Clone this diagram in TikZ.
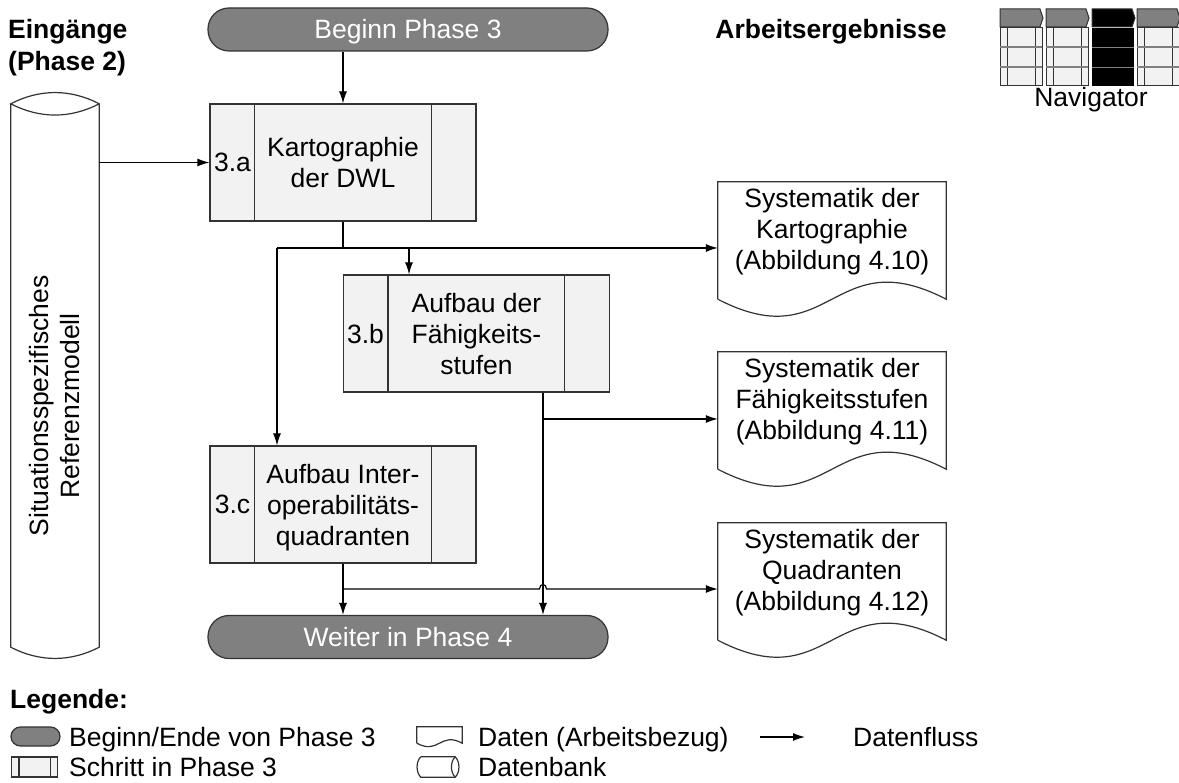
\documentclass[tikz,border=0pt]{standalone}
\usepackage{fontspec}
\setmainfont{Liberation Sans}
\usetikzlibrary{arrows.meta,calc}
\definecolor{pillgray}{HTML}{808080}
\definecolor{boxgray}{HTML}{F2F2F2}
\definecolor{edgegray}{HTML}{333333}
\newcommand\myfs{\fontsize{26.5}{31}\selectfont}
\begin{document}
\begin{tikzpicture}[x=1pt,y=-1pt,font=\myfs,
  txt/.style={inner sep=0pt,align=center,text depth=0pt},
  lefttxt/.style={inner sep=0pt,anchor=base west},
  shapeline/.style={draw=edgegray,line width=1.2pt},
  stepbox/.style={shapeline,fill=boxgray,minimum width=266pt,minimum height=117pt,inner sep=0pt,align=center,text depth=0pt},
  pill/.style={shapeline,fill=pillgray,rounded corners=21pt,minimum width=400pt,minimum height=43pt,inner sep=0pt,text=white,text height=19pt,text depth=0pt},
  docbox/.style={inner sep=0pt,minimum width=228pt,minimum height=117pt},
  flow/.style={draw=black,line width=1.2pt,-{Latex[length=12pt,width=8pt]}},
  plain/.style={draw=black,line width=1.2pt}]
\useasboundingbox (0,0) rectangle (1179,783);
\fill[white] (0,0) rectangle (1179,783);

% headings
\node[lefttxt,font=\myfs\bfseries] (ein) at (8,39) {Eingänge};
\node[lefttxt,font=\myfs\bfseries] (ph2) at (8,71) {(Phase 2)};
\node[inner sep=0pt,anchor=base,font=\myfs\bfseries] (arb) at (831,39) {Arbeitsergebnisse};

% navigator
\foreach \x/\c in {1000/pillgray,1046/pillgray,1092/black,1137/pillgray}{
  \filldraw[fill=\c,draw=edgegray,line width=1pt] (\x,9) -- (\x+40,9) -- (\x+43,18) -- (\x+40,27) -- (\x,27) -- cycle;
}
\foreach \x in {1000,1046,1137}{
  \filldraw[fill=boxgray,draw=edgegray,line width=1pt] (\x,28) rectangle (\x+42,86);
  \draw[edgegray,line width=1pt] (\x+7,28) -- (\x+7,86) (\x+35,28) -- (\x+35,86);
  \draw[pillgray,line width=2pt] (\x,47) -- (\x+42,47) (\x,67) -- (\x+42,67);
}
\fill[black] (1092,28) rectangle (1134,86);
\draw[pillgray,line width=0.8pt] (1092,47) -- (1134,47) (1092,67) -- (1134,67);
\node[inner sep=0pt,anchor=base] (nav) at (1091,107) {Navigator};

% start / end
\node[pill] (start) at (408,29.5) {Beginn Phase 3};
\node[pill] (end) at (408,637) {Weiter in Phase 4};

% steps
\node[stepbox] (a) at (343,162.5) {Kartographie\\der DWL};
\draw[shapeline] (a.north west) ++(45,0) -- ++(0,117);
\draw[shapeline] (a.north east) ++(-45,0) -- ++(0,117);
\node[txt] (al) at (232.5,162.5) {3.a};

\node[stepbox] (b) at (476.5,333.5) {Aufbau der\\Fähigkeits-\\stufen};
\draw[shapeline] (b.north west) ++(45,0) -- ++(0,117);
\draw[shapeline] (b.north east) ++(-46,0) -- ++(0,117);
\node[txt] (bl) at (365.5,333.5) {3.b};

\node[stepbox] (c) at (343,504.5) {Aufbau Inter-\\operabilitäts-\\quadranten};
\draw[shapeline] (c.north west) ++(45,0) -- ++(0,117);
\draw[shapeline] (c.north east) ++(-45,0) -- ++(0,117);
\node[txt] (cl) at (232.5,504.5) {3.c};

% database
\node[inner sep=0pt,minimum width=88pt,minimum height=543pt] (db) at (55,375.5) {};
\draw[shapeline] (db.north west) -- (db.south west) .. controls +(29,15) and +(-29,15) .. (db.south east) -- (db.north east) .. controls +(-29,-15) and +(29,-15) .. (db.north west) .. controls +(29,15) and +(-29,15) .. (db.north east);
\node[txt,rotate=90] (dbt) at (54,406) {Situationsspezifisches\\Referenzmodell};

% documents
\foreach \n/\y in {doc1/240.5,doc2/410.5,doc3/581.5}{
  \node[docbox] (\n) at (832,\y) {};
  \draw[shapeline] (\n.south west) -- (\n.north west) -- (\n.north east) -- (\n.south east) .. controls +(-114,-59) and +(114,59) .. (\n.south west);
}
\node[txt] (t1) at ([yshift=12pt]doc1.center) {Systematik der\\Kartographie\\(Abbildung 4.10)};
\node[txt] (t2) at ([yshift=12pt]doc2.center) {Systematik der\\Fähigkeitsstufen\\(Abbildung 4.11)};
\node[txt] (t3) at ([yshift=12pt]doc3.center) {Systematik der\\Quadranten\\(Abbildung 4.12)};

% connectors
\draw[flow] (start.south -| a.north) -- (a.north);
\draw[flow] (db.east |- a.west) -- (a.west);
\coordinate (j1) at (343,248);
\coordinate (jl) at (277,248);
\coordinate (jb) at (409,248);
\draw[plain] (a.south) -- (j1);
\draw[flow] (jl) -- (doc1.west |- jl);
\draw[flow] (jl) -- (c.north -| jl);
\draw[flow] (jb) -- (jb |- b.north);
\coordinate (kb) at (543,419);
\draw[flow] (b.south -| kb) -- (end.north -| kb);
\draw[flow] (kb) -- (doc2.west |- kb);
\coordinate (kc) at (343,589);
\draw[flow] (c.south) -- (end.north -| c.south);
\draw[flow] (kc) -- ([xshift=-3.5pt]kc -| kb) .. controls +(0,-6) and +(0,-6) .. ([xshift=3.5pt]kc -| kb) -- (doc3.west |- kc);

% legend
\node[lefttxt,font=\myfs\bfseries] (leg) at (10,708) {Legende:};
\node[shapeline,fill=pillgray,rounded corners=9.5pt,minimum width=49pt,minimum height=19pt,inner sep=0pt] (lpill) at (35.5,736.5) {};
\node[lefttxt] (lt1) at (69,746.5) {Beginn/Ende von Phase 3};
\node[shapeline,fill=boxgray,minimum width=46pt,minimum height=20pt,inner sep=0pt] (lstep) at (34.5,767) {};
\draw[shapeline] (lstep.north west) ++(8,0) -- ++(0,20);
\draw[shapeline] (lstep.north east) ++(-8,0) -- ++(0,20);
\node[lefttxt] (lt2) at (69,776.5) {Schritt in Phase 3};
\node[inner sep=0pt,minimum width=45pt,minimum height=16pt] (ldoc) at (439.5,735) {};
\draw[shapeline] (ldoc.south west) -- (ldoc.north west) -- (ldoc.north east) -- (ldoc.south east) .. controls +(-22,-12) and +(22,12) .. (ldoc.south west);
\node[lefttxt] (lt3) at (478,746.5) {Daten (Arbeitsbezug)};
\node[inner sep=0pt,minimum width=42pt,minimum height=20pt] (ldb) at (438,767) {};
\draw[shapeline] ([xshift=4pt]ldb.north west) -- ([xshift=-4pt]ldb.north east) .. controls +(5,5) and +(5,-5) .. ([xshift=-4pt]ldb.south east) -- ([xshift=4pt]ldb.south west) .. controls +(-5,-5) and +(-5,5) .. ([xshift=4pt]ldb.north west);
\draw[shapeline] ([xshift=-4pt]ldb.north east) .. controls +(-5,5) and +(-5,-5) .. ([xshift=-4pt]ldb.south east);
\node[lefttxt] (lt4) at (478,776.5) {Datenbank};
\coordinate (la1) at (760,737);
\coordinate (la2) at (805,737);
\draw[flow] (la1) -- (la2);
\node[lefttxt] (lt5) at (853,746.5) {Datenfluss};
\end{tikzpicture}
\end{document}
